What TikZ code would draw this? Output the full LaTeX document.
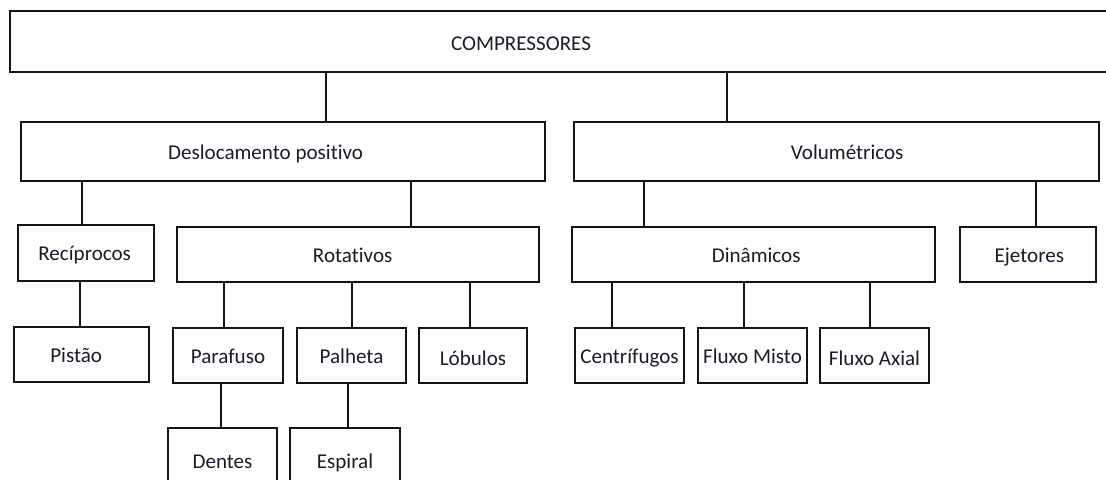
\documentclass[tikz,border=0pt]{standalone}
\usepackage{fontspec}
\setmainfont{Carlito}[Ligatures=CommonOff]
\usetikzlibrary{fit}
\definecolor{lineC}{HTML}{141414}
\definecolor{textC}{HTML}{1C1C28}
\begin{document}
\begin{tikzpicture}[x=0.75pt,y=-0.75pt,
  box/.style={draw=lineC,line width=1.5pt,rectangle,inner sep=0pt,fill=white},
  txt/.style={font=\fontsize{15.8}{19}\selectfont,text=textC,text height=11.25pt,text depth=0pt,inner sep=0pt},
  link/.style={draw=lineC,line width=1.3pt}]
\useasboundingbox (0,0) rectangle (1106,479);
\clip (0,0) rectangle (1106,479);
\fill[white] (0,0) rectangle (1106,479);
% level 0
\node[box,fit={(10,11) (1140,72)},label={[txt,xshift=-40.5pt,yshift=-0.8pt]center:COMPRESSORES}] (top) {};
% level 1
\node[box,fit={(21,122) (545,181)},label={[txt,xshift=-13pt]center:Deslocamento positivo}] (desl) {};
\node[box,fit={(574,122) (1099,181)},label={[txt,xshift=8pt]center:Volumétricos}] (vol) {};
% level 2
\node[box,fit={(18,225) (154,281)},label={[txt,xshift=-1pt]center:Recíprocos}] (rec) {};
\node[box,fit={(177,227) (539,282)},label={[txt,xshift=-4pt]center:Rotativos}] (rot) {};
\node[box,fit={(572,227) (935,282)},label={[txt,xshift=2pt]center:Dinâmicos}] (din) {};
\node[box,fit={(960,227) (1096,282)},label={[txt,xshift=1pt]center:Ejetores}] (eje) {};
% level 3
\node[box,fit={(14,327) (149,382)},label={[txt,xshift=-4pt]center:Pistão}] (pis) {};
\node[box,fit={(173,328) (283,383)},label={[txt]center:Parafuso}] (par) {};
\node[box,fit={(297,328) (406,383)},label={[txt]center:Palheta}] (pal) {};
\node[box,fit={(419,328) (527,383)},label={[txt,yshift=-2pt]center:Lóbulos}] (lob) {};
\node[box,fit={(575,328) (684,383)},label={[txt]center:Centrífugos}] (cen) {};
\node[box,fit={(698,328) (807,383)},label={[txt]center:Fluxo Misto}] (flm) {};
\node[box,fit={(820,328) (929,383)},label={[txt,yshift=-1.5pt]center:Fluxo Axial}] (fla) {};
% level 4 (cut off by the lower edge)
\node[box,fit={(168,428) (277,520)}] (den) {};
\node[box,fit={(290,428) (400,520)}] (esp) {};
\node[txt] (dent) at (222.5,461) {Dentes};
\node[txt] (espt) at (345,461) {Espiral};
% connectors
\foreach \x/\a/\b [count=\i] in {326/top/desl, 727/top/vol, 82/desl/rec, 411/desl/rot,
   80/rec/pis, 224/rot/par, 352/rot/pal, 470/rot/lob, 221/par/den, 348/pal/esp,
   644/vol/din, 1036/vol/eje, 612/din/cen, 744/din/flm, 870/din/fla}{
  \coordinate (k\i) at (\x,0);
  \draw[link] (k\i |- \a.south) -- (k\i |- \b.north);
}
\end{tikzpicture}
\end{document}
